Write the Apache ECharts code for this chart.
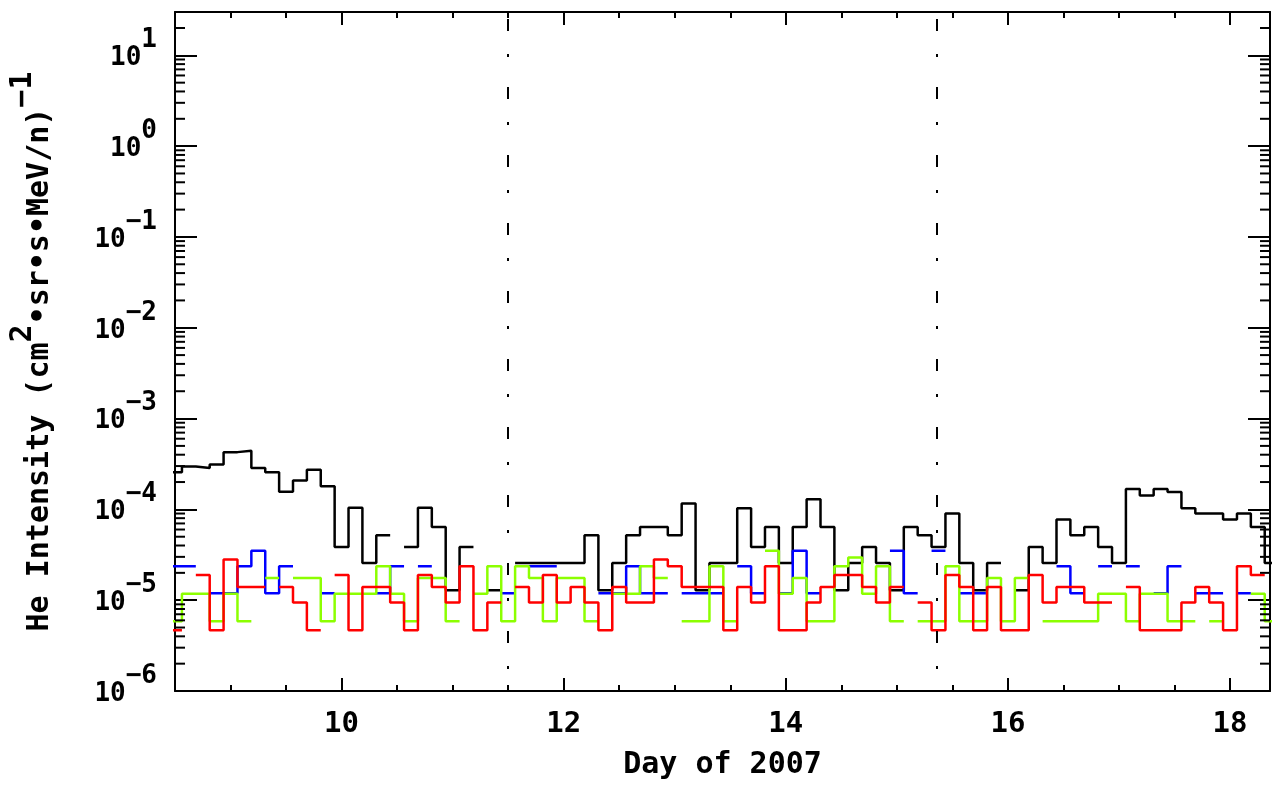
<!DOCTYPE html>
<html><head><meta charset="utf-8">
<script src="https://cdn.jsdelivr.net/npm/echarts@6/dist/echarts.min.js"></script>
<style>html,body{margin:0;padding:0;background:#fff}#c{width:1273px;height:786px}</style>
</head><body><div id="c"></div>
<script>
// ---- axis ranges ----
const X_MIN = 8.5, X_MAX = 18.36;
const Y_MIN = 1e-6, Y_MAX = 30;
// 3-hour bins, first bin centred on day 8.5
const binStart = 8.5, binWidth = 0.125;

// ---- He intensity per 3-hour bin (null = no data) ----
const heBlack = [
  2.57e-4, 2.97e-4, 2.85e-4, 3.13e-4, 4.27e-4, 4.42e-4, 2.85e-4, 2.57e-4, 1.56e-4, 2.08e-4,
  2.73e-4, 1.80e-4, 3.85e-5, 1.04e-4, 2.57e-5, 5.18e-5, null, 3.85e-5, 1.04e-4, 6.4e-5,
  1.29e-5, 3.85e-5, null, 1.29e-5, null, 2.57e-5, 2.57e-5, 2.57e-5, 2.57e-5, 2.57e-5,
  5.18e-5, 1.29e-5, 2.57e-5, 5.18e-5, 6.4e-5, 6.4e-5, 5.18e-5, 1.16e-4, 1.29e-5, 2.57e-5,
  2.57e-5, 1.03e-4, 3.85e-5, 6.4e-5, 2.57e-5, 6.4e-5, 1.29e-4, 6.4e-5, 1.29e-5, 2.57e-5,
  3.85e-5, 2.57e-5, 1.29e-5, 6.4e-5, 5.18e-5, 3.85e-5, 9.0e-5, 2.57e-5, 1.29e-5, 2.57e-5,
  null, 1.29e-5, 3.85e-5, 2.57e-5, 7.74e-5, 5.18e-5, 6.4e-5, 3.85e-5, 2.57e-5, 1.68e-4,
  1.42e-4, 1.68e-4, 1.55e-4, 1.03e-4, 9.0e-5, 9.0e-5, 7.74e-5, 9.0e-5, 6.4e-5, 2.57e-5
];
const heBlue = [
  2.37e-5, 2.37e-5, null, 1.19e-5, 1.19e-5, 2.37e-5, 3.5e-5, 1.19e-5, 2.37e-5, null,
  null, 1.19e-5, null, null, null, 1.19e-5, 2.37e-5, null, 2.37e-5, null,
  null, null, null, null, 1.19e-5, null, 2.37e-5, 2.37e-5, null, null,
  null, 1.19e-5, 1.19e-5, 2.37e-5, 1.19e-5, 1.19e-5, null, 1.19e-5, 1.19e-5, 1.19e-5,
  null, 2.37e-5, 1.19e-5, null, 1.19e-5, 3.5e-5, 1.19e-5, null, null, null,
  null, null, 3.5e-5, 1.19e-5, null, 3.5e-5, null, 1.19e-5, 1.19e-5, null,
  null, null, null, null, 2.37e-5, 1.19e-5, null, 2.37e-5, null, 2.37e-5,
  null, 1.19e-5, 2.37e-5, null, 1.19e-5, 1.19e-5, null, 1.19e-5, null, null
];
const heGreen = [
  5.88e-6, 1.18e-5, 1.18e-5, 5.88e-6, 1.18e-5, 5.88e-6, null, 1.76e-5, null, 1.76e-5,
  1.76e-5, 5.88e-6, 1.18e-5, 1.18e-5, 1.18e-5, 2.37e-5, 1.18e-5, 5.88e-6, 1.76e-5, 1.76e-5,
  5.88e-6, null, 1.18e-5, 2.37e-5, 5.88e-6, 2.37e-5, 1.76e-5, 5.88e-6, 1.76e-5, 1.76e-5,
  5.88e-6, null, 1.18e-5, 1.18e-5, 2.37e-5, 1.76e-5, null, 5.88e-6, 5.88e-6, 2.37e-5,
  5.88e-6, null, null, 3.5e-5, 1.18e-5, 1.76e-5, 5.88e-6, 5.88e-6, 2.37e-5, 2.95e-5,
  1.18e-5, 2.37e-5, 5.88e-6, null, 5.88e-6, 5.88e-6, 2.37e-5, 5.88e-6, 5.88e-6, 1.76e-5,
  5.88e-6, 1.76e-5, null, 5.88e-6, 5.88e-6, 5.88e-6, 5.88e-6, 1.18e-5, 1.18e-5, 5.88e-6,
  1.18e-5, 1.18e-5, 5.88e-6, 5.88e-6, null, 5.88e-6, null, null, 1.18e-5, 5.88e-6
];
const heRed = [
  4.68e-6, null, 1.90e-5, 4.68e-6, 2.80e-5, 1.40e-5, 1.40e-5, null, 1.40e-5, 9.43e-6,
  4.68e-6, null, 1.90e-5, 4.68e-6, 1.40e-5, 1.40e-5, 9.43e-6, 4.68e-6, 1.90e-5, 1.40e-5,
  9.43e-6, 2.37e-5, 4.68e-6, 9.43e-6, null, 1.40e-5, 9.43e-6, 1.90e-5, 9.43e-6, 1.40e-5,
  9.43e-6, 4.68e-6, 1.40e-5, 9.43e-6, 9.43e-6, 2.80e-5, 2.37e-5, 1.40e-5, 1.40e-5, 1.40e-5,
  4.68e-6, 1.40e-5, 9.43e-6, 2.37e-5, 4.68e-6, 4.68e-6, 9.43e-6, 1.40e-5, 1.90e-5, 1.90e-5,
  1.40e-5, 9.43e-6, 1.40e-5, null, 9.43e-6, 4.68e-6, 1.90e-5, 1.40e-5, 4.68e-6, 1.40e-5,
  4.68e-6, 4.68e-6, 1.90e-5, 9.43e-6, 1.40e-5, 1.40e-5, 9.43e-6, 9.43e-6, null, 1.40e-5,
  4.68e-6, 4.68e-6, 4.68e-6, 9.43e-6, 1.40e-5, 9.43e-6, 4.68e-6, 2.37e-5, 1.90e-5, null
];

// vertical dash-dot event markers (day of year)
const eventDays = [11.496, 15.357];

// tick positions
const xMajorTicks = [10, 12, 14, 16, 18];
const xMinorTicks = [9, 9.5, 10.5, 11, 11.5, 12.5, 13, 13.5, 14.5, 15, 15.5, 16.5, 17, 17.5, 18];
const yMinorTicks = [];
for (let e = -6; e <= 1; e++) for (let m = 2; m <= 9; m++) { const v = m * Math.pow(10, e); if (v < Y_MAX) yMinorTicks.push(v); }

// histogram-style outline: each bin drawn from its left to right edge
function hist(vals) {
  const pts = [];
  vals.forEach((v, i) => {
    const t = binStart + i * binWidth;
    if (v == null) pts.push([t, null]);
    else { pts.push([t - binWidth / 2, v]); pts.push([t + binWidth / 2, v]); }
  });
  return pts;
}

const FONT = 'DejaVu Sans Mono';
const FW = 'bold';
const axisLineStyle = { color: '#000', width: 2 };

function xAxisDef(pos, ticks, len, major) {
  return {
    type: 'value', position: pos, min: X_MIN, max: X_MAX,
    axisLine: { show: major, onZero: false, lineStyle: axisLineStyle },
    axisTick: { show: true, inside: true, length: len, customValues: ticks, lineStyle: { color: '#000', width: 2 } },
    axisLabel: (pos === 'bottom' && major)
      ? { show: true, customValues: xMajorTicks, margin: 19, fontSize: 29, fontFamily: FONT, fontWeight: FW, color: '#000' }
      : { show: false },
    splitLine: { show: false }
  };
}

const xAxes = [
  Object.assign(xAxisDef('bottom', xMajorTicks, 13, true), {
    name: 'Day of 2007', nameLocation: 'middle', nameGap: 59,
    nameTextStyle: { fontSize: 30, fontFamily: FONT, fontWeight: FW, color: '#000' }
  }),
  xAxisDef('bottom', xMinorTicks, 6, false),
  xAxisDef('top', xMajorTicks, 13, true),
  xAxisDef('top', xMinorTicks, 6, false)
];

function powLabel(val) {
  const e = Math.log10(val), r = Math.round(e);
  if (Math.abs(e - r) > 1e-6) return '';
  return '{b|10}{s|' + (r < 0 ? '\u2212' + (-r) : String(r)) + '}';
}

const yAxes = [
  {
    type: 'log', logBase: 10, position: 'left', min: Y_MIN, max: Y_MAX,
    axisLine: { show: true, lineStyle: axisLineStyle },
    axisTick: { show: true, inside: true, length: 22, lineStyle: { color: '#000', width: 2 } },
    axisLabel: {
      formatter: powLabel, margin: 18, color: '#000', fontFamily: FONT, fontSize: 26, fontWeight: FW,
      rich: {
        b: { fontFamily: FONT, fontSize: 26, fontWeight: FW, color: '#000', padding: [6, 0, 0, 0] },
        s: { fontFamily: FONT, fontSize: 26, fontWeight: FW, color: '#000', padding: [0, 0, 30, 0] }
      }
    },
    splitLine: { show: false },
    name: 'He Intensity (cm{s|2}\u2022sr\u2022s\u2022MeV/n){s|\u22121}',
    nameLocation: 'middle', nameGap: 103,
    nameTextStyle: {
      fontFamily: FONT, fontSize: 30, fontWeight: FW, color: '#000',
      rich: { s: { fontFamily: FONT, fontSize: 30, fontWeight: FW, color: '#000', padding: [0, 0, 34, 0] } }
    }
  },
  {
    type: 'log', logBase: 10, position: 'right', min: Y_MIN, max: Y_MAX,
    axisLine: { show: true, lineStyle: axisLineStyle },
    axisTick: { show: true, inside: true, length: 22, lineStyle: { color: '#000', width: 2 } },
    axisLabel: { show: false },
    splitLine: { show: false }
  }
];

function lineSeries(name, vals, color, extra) {
  return Object.assign({
    name, type: 'line', data: hist(vals), xAxisIndex: 0, yAxisIndex: 0,
    showSymbol: false, symbol: 'none', connectNulls: false, clip: true,
    lineStyle: { color, width: 2.5 }, itemStyle: { color }, silent: true
  }, extra || {});
}

const option = {
  animation: false,
  backgroundColor: '#fff',
  grid: { left: 175, right: 3, top: 12, bottom: 95, containLabel: false, outerBoundsMode: 'none' },
  xAxis: xAxes,
  yAxis: yAxes,
  series: [
    lineSeries('black', heBlack, '#000000', {
      markLine: {
        silent: true, symbol: 'none', label: { show: false },
        lineStyle: { color: '#000', width: 2, type: [3, 23, 12, 30], dashOffset: 46 },
        data: eventDays.map(d => ({ xAxis: d }))
      }
    }),
    lineSeries('blue', heBlue, '#0000ff'),
    lineSeries('green', heGreen, '#8cff00'),
    lineSeries('red', heRed, '#ff0000'),
    {
      type: 'custom', coordinateSystem: 'cartesian2d', xAxisIndex: 0, yAxisIndex: 0, silent: true, z: 10,
      data: yMinorTicks.map(v => [X_MIN, v]),
      encode: { x: 0, y: 1 },
      renderItem: function (params, api) {
        const v = api.value(1);
        const pL = api.coord([X_MIN, v]);
        const pR = api.coord([X_MAX, v]);
        const st = { stroke: '#000', lineWidth: 2 };
        return { type: 'group', children: [
          { type: 'line', shape: { x1: pL[0], y1: pL[1], x2: pL[0] + 10, y2: pL[1] }, style: st },
          { type: 'line', shape: { x1: pR[0] - 10, y1: pR[1], x2: pR[0], y2: pR[1] }, style: st }
        ] };
      }
    }
  ]
};

const chart = echarts.init(document.getElementById('c'), null, { renderer: 'canvas' });
chart.setOption(option);
</script>
</body></html>
